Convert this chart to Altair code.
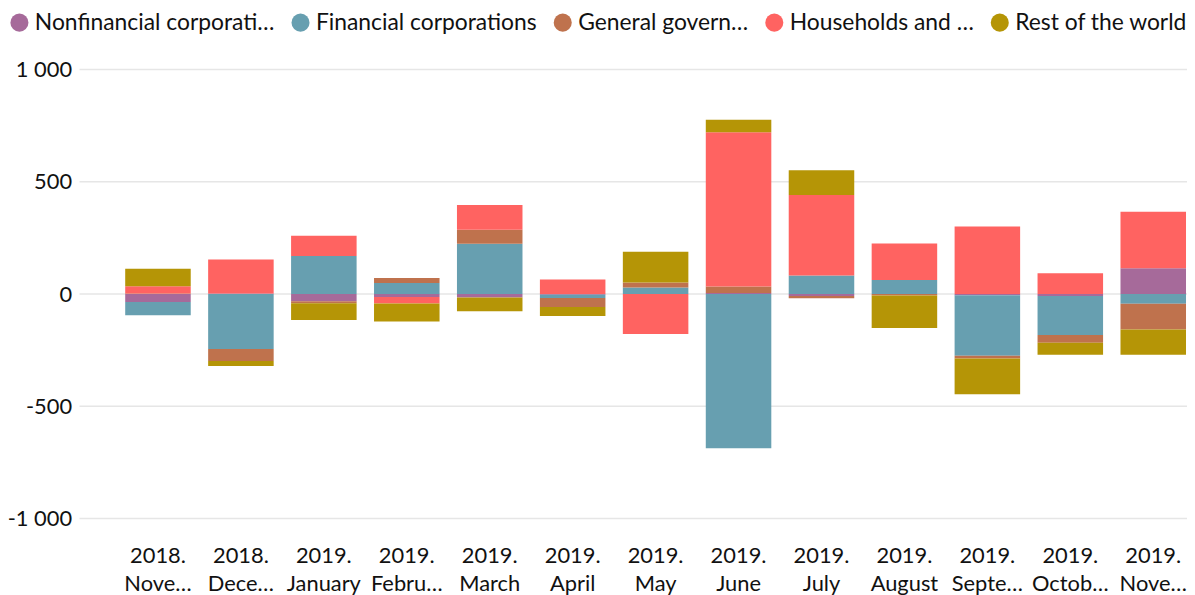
import altair as alt
import pandas as pd

months = ["2018. November", "2018. December", "2019. January", "2019. February",
          "2019. March", "2019. April", "2019. May", "2019. June", "2019. July",
          "2019. August", "2019. September", "2019. October", "2019. November"]

series = ["Nonfinancial corporations", "Financial corporations", "General government",
          "Households and NPISHs", "Rest of the world"]
legend_labels = ["Nonfinancial corporati…", "Financial corporations", "General govern…",
                 "Households and …", "Rest of the world"]
colors = ["#a66a9a", "#679fb0", "#bf724d", "#ff6361", "#b59506"]

nonfinancial = [-35, 2, -32, -13, -15, -3, 0, 5, -9, 0, -5, -9, 115]
financial = [-59, -245, 170, 49, 224, -15, 29, -687, 83, 63, -270, -173, -43]
government = [3, -53, -9, 22, 62, -40, 22, 29, -10, -6, -12, -35, -115]
households = [32, 152, 90, -29, 111, 65, -178, 687, 358, 162, 301, 93, 252]
rest_world = [78, -22, -75, -80, -62, -40, 137, 56, 111, -145, -159, -53, -112]

y_ticks = [-1000, -500, 0, 500, 1000]

values = [nonfinancial, financial, government, households, rest_world]
rows = []
for si, (name, vals) in enumerate(zip(series, values)):
    for m, v in zip(months, vals):
        rows.append({"month": m, "series": name, "idx": si, "value": v})
df = pd.DataFrame(rows)
grid_df = pd.DataFrame({"tick": y_ticks})

FONT = "Lato"
W, H = 1115, 452

legend_expr = ""
for full, short in zip(series, legend_labels):
    legend_expr += f"datum.label === '{full}' ? '{short}' : "
legend_expr += "datum.label"

yscale = alt.Scale(domain=[-1000, 1000], nice=False)
yaxis = alt.Axis(values=y_ticks, domain=False, ticks=False, grid=False,
                 labelPadding=8, labelFontSize=22, labelFont=FONT,
                 labelColor="#111",
                 labelExpr="(datum.value < 0 ? '-' : '') + replace(format(abs(datum.value), ','), ',', ' ')")

grid = alt.Chart(grid_df).mark_rule(color="#e6e6e6", strokeWidth=1.5).encode(
    y=alt.Y("tick:Q", scale=yscale, title=None, axis=yaxis),
    x=alt.value(0), x2=alt.value(W),
)

bars = alt.Chart(df).mark_bar().encode(
    x=alt.X("month:N", sort=months, title=None,
            scale=alt.Scale(range=[46, 1114], paddingInner=0.21, paddingOuter=0),
            axis=alt.Axis(labelAngle=0, domain=False, ticks=False, labelPadding=27,
                          labelFontSize=22, labelFont=FONT, labelColor="#111",
                          labelLimit=78, labelLineHeight=28, grid=False,
                          labelExpr="split(datum.label, ' ')")),
    y=alt.Y("value:Q", title=None, stack="zero", scale=yscale, axis=yaxis),
    color=alt.Color("series:N", sort=series,
                    scale=alt.Scale(domain=series, range=colors),
                    legend=alt.Legend(title=None, orient="none", legendX=-72, legendY=-59,
                                      direction="horizontal", columns=5,
                                      symbolType="circle", symbolSize=330,
                                      symbolStrokeWidth=0, symbolOpacity=1,
                                      labelFontSize=23, labelFont=FONT, labelColor="#111",
                                      labelOffset=4, columnPadding=14, labelLimit=400,
                                      labelExpr=legend_expr)),
    order=alt.Order("idx:Q", sort="ascending"),
    tooltip=["month", "series", "value"],
)

chart = alt.layer(grid, bars).properties(
    width=W, height=H,
    autosize=alt.AutoSizeParams(type="none"),
    padding={"left": 72, "top": 60, "right": 0, "bottom": 75},
).configure_view(stroke=None)

chart.save("out.html", embed_options={"renderer": "svg", "actions": False})
